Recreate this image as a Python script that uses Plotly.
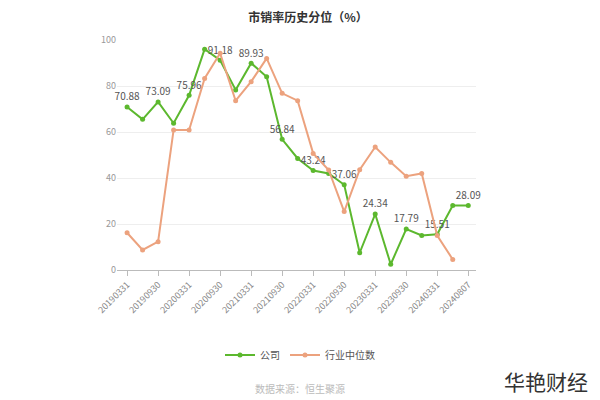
import plotly.graph_objects as go

dates = ["20190331","20190630","20190930","20191231","20200331","20200630","20200930","20201231",
         "20210331","20210630","20210930","20211231","20220331","20220630","20220930","20221231",
         "20230331","20230630","20230930","20231231","20240331","20240630","20240807"]
company = [70.88,65.5,73.09,63.8,75.96,96.0,91.18,78.3,89.93,84.0,56.84,48.5,43.24,42.0,37.06,7.5,
           24.34,2.5,17.79,15.0,15.51,28.0,28.09]
industry = [16.2,8.7,12.3,60.9,60.9,83.3,94.2,73.6,81.9,92.0,76.8,73.6,50.7,43.5,25.4,43.6,
            53.5,46.8,40.8,42.0,15.0,4.6]
tick_labels = dates[::2]

labels = [f"{v:.2f}" if i % 2 == 0 else "" for i, v in enumerate(company)]

OFF = 8  # page body margin
L, T, PW, PH = 117 - OFF, 40 - OFF, 359, 230
B = 400 - T - PH

def py(pix):
    return (400 - (pix - OFF) - B) / PH

def px(pix):
    return ((pix - OFF) - L) / PW

fig = go.Figure()
fig.add_trace(go.Scatter(x=dates, y=company, name="公司", mode="lines+markers+text",
                         text=labels, textposition="top center", cliponaxis=False,
                         textfont=dict(size=10, color="#555"),
                         line=dict(color="#5cb82e", width=2), marker=dict(size=5, color="#5cb82e")))
fig.add_trace(go.Scatter(x=dates[:len(industry)], y=industry, name="行业中位数", mode="lines+markers",
                         line=dict(color="#eca27e", width=2), marker=dict(size=5, color="#eca27e")))

fig.update_layout(
    width=600, height=400, paper_bgcolor="white", plot_bgcolor="white",
    margin=dict(l=L, r=600 - L - PW, t=T, b=B, autoexpand=False),
    font=dict(family="Noto Sans CJK SC", size=10, color="#888"),
    title=dict(text="<b>市销率历史分位（%）</b>", x=0.5, xanchor="center", y=1 - 6 / 400, yanchor="top",
               font=dict(size=12, color="#333")),
    showlegend=True,
    legend=dict(orientation="h", x=px(300), xanchor="center", y=py(355), yanchor="middle",
                font=dict(size=10, color="#555")),
)
fig.add_annotation(text="数据来源：恒生聚源", x=px(300), xref="paper", y=py(388),
                   yref="paper", yanchor="middle", showarrow=False, font=dict(size=10, color="#bbb"))
fig.add_annotation(text="华艳财经", xref="paper", yref="paper", x=px(590),
                   y=py(381), xanchor="right", yanchor="middle", showarrow=False,
                   font=dict(size=21, color="#333"))
fig.update_xaxes(type="category", tickvals=tick_labels, ticktext=tick_labels, tickangle=-45,
                 range=[-0.65, 22.5], automargin=False,
                 showline=True, linecolor="#bbb", ticks="outside", tickcolor="#bbb",
                 tickfont=dict(size=9, color="#888"), showgrid=False)
fig.update_yaxes(range=[0, 100], dtick=20, gridcolor="#eee", zeroline=False, automargin=False,
                 tickfont=dict(size=9, color="#999"))
fig.write_html("out.html")
